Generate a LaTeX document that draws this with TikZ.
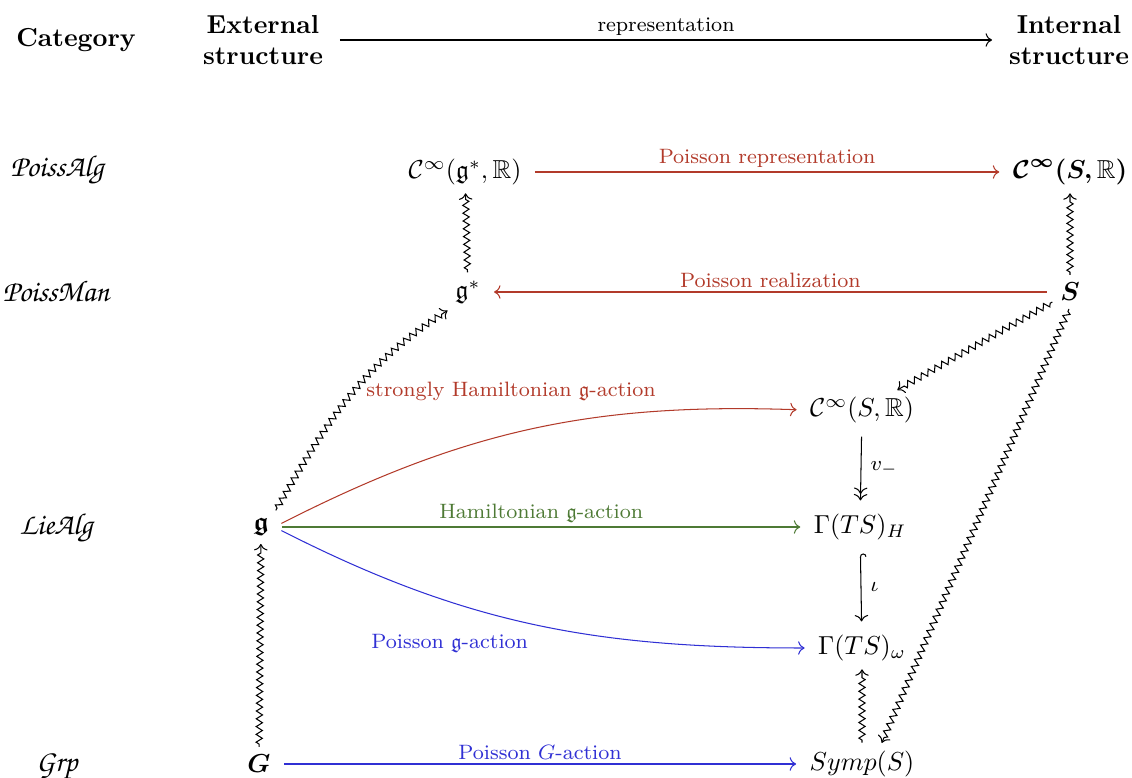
\documentclass[tikz,border=0pt]{standalone}
\usepackage{amsmath,amssymb,bm}
\usetikzlibrary{arrows.meta,decorations.pathmorphing}
\definecolor{cred}{RGB}{178,58,42}
\definecolor{cgreen}{RGB}{78,122,53}
\definecolor{cblue}{RGB}{48,48,212}
\newcommand\catfont{\usefont{OT1}{pzc}{mb}{it}\fontsize{11.6}{13}\selectfont}
\tikzset{
  obj/.style={inner sep=2pt},
  cat/.style={font=\catfont},
  head/.style={font=\bfseries, align=center},
  lab/.style={font=\footnotesize, inner sep=1.5pt},
  zz/.style={->, shorten >=1pt, shorten <=1pt, decorate, decoration={zigzag, segment length=3pt, amplitude=1.2pt, pre length=2pt, post length=3pt}},
  arr/.style={->, shorten >=3pt, shorten <=3pt},
}
\begin{document}
\begin{tikzpicture}[x=0.3846pt,y=0.3846pt]
\useasboundingbox (0,0) rectangle (1132,778);
% header
\node[head] (cathead) at (76,738) {Category};
\node[head] (ext) at (263,738) {External\\structure};
\node[head] (int) at (1069,738) {Internal\\structure};
\draw[arr] (ext.east) -- node[lab,above=0pt]{representation} (int.west);
% categories
\node[cat] (palg) at (57,608) {PoissAlg};
\node[cat] (pman) at (56,487) {PoissMan};
\node[cat] (lie) at (56,250) {LieAlg};
\node[cat] (grp) at (57,11) {Grp};
% objects
\node[obj] (Cg) at (465,606) {$\mathcal{C}^{\infty}(\mathfrak{g}^{*},\mathbb{R})$};
\node[obj] (CS) at (1070,606) {$\boldsymbol{\mathcal{C}^{\infty}(S,}\mathbb{R}\boldsymbol{)}$};
\node[obj] (gs) at (468,486) {$\mathfrak{g}^{*}$};
\node[obj] (S) at (1070,486) {$\boldsymbol{S}$};
\node[obj] (g) at (261,251) {$\boldsymbol{\mathfrak{g}}$};
\node[obj] (G) at (259,14) {$\boldsymbol{G}$};
\node[obj] (CSm) at (862,368) {$\mathcal{C}^{\infty}(S,\mathbb{R})$};
\node[obj] (GH) at (860,251) {$\Gamma(TS)_{H}$};
\node[obj] (Gw) at (862,130) {$\Gamma(TS)_{\omega}$};
\node[obj] (Symp) at (862,14) {$Symp(S)$};
% red arrows
\draw[arr,cred] (Cg) -- node[lab,above=0pt]{Poisson representation} (CS);
\draw[arr,cred] (S) -- node[lab,above=0pt]{Poisson realization} (gs);
\draw[arr,cred] (g.east) to[out=27,in=178] node[lab,pos=0.46,above=11pt]{strongly Hamiltonian $\mathfrak{g}$-action} (CSm.west);
\draw[arr,cgreen] (g) -- node[lab,above=0pt]{Hamiltonian $\mathfrak{g}$-action} (GH);
\draw[arr,cblue] (g.east) to[out=-27,in=180] node[lab,pos=0.33,below=11pt]{Poisson $\mathfrak{g}$-action} (Gw.west);
\draw[arr,cblue] (G) -- node[lab,above=0pt]{Poisson $G$-action} (Symp);
% vertical
\draw[->>, shorten >=3pt, shorten <=3pt] (CSm) -- node[lab,right=2pt]{$v_{-}$} (GH);
\draw[{Hooks[right]}->, shorten >=3pt, shorten <=3pt] (GH) -- node[lab,right=2pt]{$\iota$} (Gw);
% squiggly
\draw[zz] (gs) -- (Cg);
\draw[zz] (S) -- (CS);
\draw[zz] (g.north east) to[out=60,in=212] (gs.south west);
\draw[zz] (G) -- (g);
\draw[zz] (S) -- (CSm);
\draw[zz] (S.south) -- (Symp.45);
\draw[zz] (Symp) -- (Gw);
\end{tikzpicture}
\end{document}
